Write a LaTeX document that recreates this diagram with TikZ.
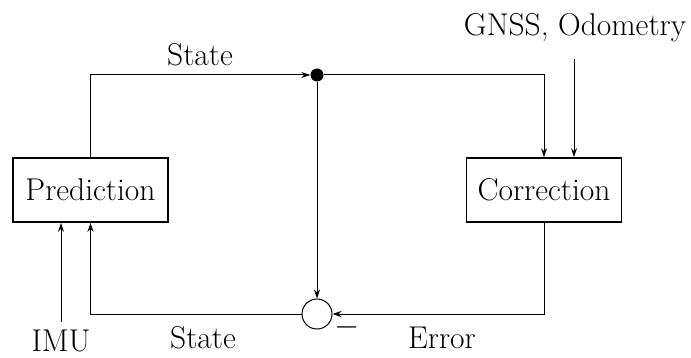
\documentclass[tikz,border=0pt]{standalone}
\usepackage{graphicx}
\usetikzlibrary{arrows.meta}
\begin{document}
\begin{tikzpicture}[x=1pt,y=-1pt,
  box/.style={draw, line width=1.6pt, minimum width=155pt, minimum height=64pt, inner sep=0pt, font=\fontsize{31.5}{38}\selectfont},
  lbl/.style={font=\fontsize{31.5}{38}\selectfont, inner sep=0pt},
  conn/.style={line width=1pt},
  arr/.style={conn, -{Stealth[length=9pt,width=6pt]}}]
\useasboundingbox (0,0) rectangle (691,358);
\node[box] (pred) at (90.5,190) {Prediction};
\node[box] (corr) at (544,190) {Correction};
\node[circle, fill, inner sep=0pt, minimum size=13pt] (dot) at (317,75) {};
\node[circle, draw, line width=1pt, inner sep=0pt, minimum size=30pt] (sum) at (317,314) {};
\node[lbl] (gnss) at (575,28) {GNSS, Odometry};
\node[lbl] (imu) at (61,341) {IMU};
\node[lbl] (st1) at (200,55) {State};
\node[lbl] (st2) at (203,338) {State};
\node[lbl] (err) at (442,338) {Error};
\node[lbl] (minus) at (347,327) {\scalebox{1.3}{$-$}};
\coordinate (g) at (574,59);
\coordinate (i) at (61,322);
\draw[arr] (pred.north) |- (dot.west);
\draw[arr] (dot.east) -| (corr.north);
\draw[arr] (g) -- (g |- corr.north);
\draw[arr] (dot.south) -- (sum.north);
\draw[arr] (corr.south) |- (sum.east);
\draw[arr] (sum.west) -| (pred.south);
\draw[arr] (i) -- (i |- pred.south);
\end{tikzpicture}
\end{document}
